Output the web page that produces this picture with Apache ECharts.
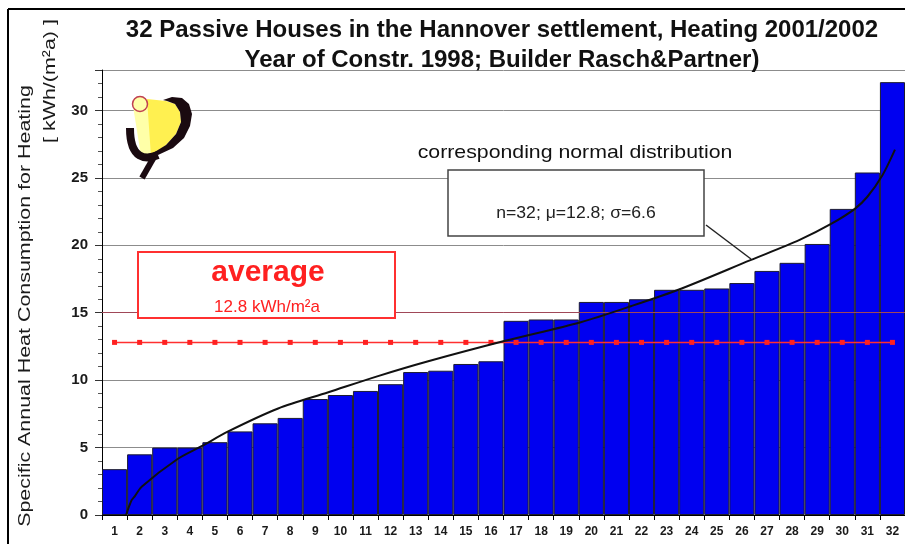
<!DOCTYPE html>
<html>
<head>
<meta charset="utf-8">
<script src="https://cdn.jsdelivr.net/npm/echarts@6/dist/echarts.min.js"></script>
<style>
html, body { margin: 0; padding: 0; background: #fff; }
#chart { width: 905px; height: 544px; }
</style>
</head>
<body>
<div id="chart"></div>
<script>
// house numbers, sorted by consumption
let houses = ['1', '2', '3', '4', '5', '6', '7', '8', '9', '10', '11', '12', '13', '14', '15', '16',
  '17', '18', '19', '20', '21', '22', '23', '24', '25', '26', '27', '28', '29', '30', '31', '32']
// kWh/(m²a)
let consumption = [3.4, 4.5, 5.0, 5.0, 5.4, 6.2, 6.8, 7.2, 8.6, 8.9, 9.2, 9.7, 10.6, 10.7, 11.2, 11.4,
  14.4, 14.5, 14.5, 15.8, 15.8, 16.0, 16.7, 16.7, 16.8, 17.2, 18.1, 18.7, 20.1, 22.7, 25.4, 32.1]
let average = 12.8
// normal distribution curve (x in house units from the left axis)
let normalX = [0.96, 1.18, 1.31, 1.58, 2.97, 3.97, 5.03, 7.02, 9.02, 11.0, 13.0, 16.03, 19.08, 21.1,
  23.1, 25.84, 27.8, 29.07, 30.0, 30.5, 31.1, 31.6]
let normalY = [0.0, 1.1, 1.4, 2.1, 4.1, 5.1, 6.2, 7.9, 9.1, 10.3, 11.4, 12.9, 14.3, 15.5,
  16.8, 18.9, 20.4, 21.6, 22.7, 23.6, 25.2, 27.1]
let yTicks = [0, 5, 10, 15, 20, 25, 30]
let redGridValue = 15

let chart = echarts.init(document.getElementById('chart'), null, { renderer: 'canvas' })

let textColor = '#1a1a1a'
let logoBlack = '#1a0a10'
let option = {
  animation: false,
  backgroundColor: '#fff',
  title: {
    text: '32 Passive Houses in the Hannover settlement, Heating 2001/2002\nYear of Constr. 1998; Builder Rasch&Partner)',
    left: 497,
    top: 10,
    textAlign: 'center',
    textStyle: {
      fontFamily: 'Liberation Sans, Arial',
      fontSize: 24,
      fontWeight: 'bold',
      color: '#111',
      lineHeight: 30
    }
  },
  grid: {
    left: 102,
    right: 0,
    top: 70,
    bottom: 29
  },
  xAxis: [
    {
      type: 'category',
      data: houses,
      boundaryGap: true,
      axisLine: { lineStyle: { color: '#000', width: 1 } },
      axisTick: { show: true, length: 5, lineStyle: { color: '#000' } },
      axisLabel: {
        interval: 0,
        margin: 11,
        fontFamily: 'Liberation Sans, Arial',
        fontSize: 12,
        fontWeight: 'bold',
        color: textColor
      },
      splitLine: { show: false }
    },
    {
      type: 'value',
      min: 0,
      max: 32,
      show: false
    }
  ],
  yAxis: {
    type: 'value',
    min: 0,
    max: 33,
    interval: 5,
    axisLine: { show: true, lineStyle: { color: '#000', width: 1 } },
    axisTick: { show: true, length: 7, lineStyle: { color: '#333' } },
    minorTick: { show: true, splitNumber: 5, length: 4, lineStyle: { color: '#555' } },
    axisLabel: {
      margin: 14,
      showMaxLabel: false,
      fontFamily: 'Liberation Sans, Arial',
      fontSize: 15,
      fontWeight: 'bold',
      color: textColor,
      formatter: function (v) {
        return yTicks.indexOf(v) >= 0 ? String(v) : ''
      }
    },
    splitLine: {
      show: true,
      lineStyle: { color: '#8c8c8c', width: 1 }
    }
  },
  series: [
    {
      // reddish grid line at 15, kept under the bars
      name: 'grid15',
      type: 'line',
      data: [],
      silent: true,
      z: 1,
      markLine: {
        silent: true,
        symbol: 'none',
        label: { show: false },
        lineStyle: { color: '#a04858', type: 'solid', width: 1 },
        data: [{ yAxis: redGridValue }]
      }
    },
    {
      name: 'consumption',
      type: 'bar',
      data: consumption,
      barCategoryGap: 0,
      itemStyle: {
        color: '#0000f0',
        borderColor: '#1c1c30',
        borderWidth: 1
      },
      z: 2
    },
    {
      name: 'average',
      type: 'line',
      data: houses.map(function () { return average }),
      symbol: 'rect',
      symbolSize: 5,
      itemStyle: { color: '#ff2020' },
      lineStyle: { color: '#ff3030', width: 1.5 },
      z: 4
    },
    {
      name: 'normal',
      type: 'line',
      xAxisIndex: 1,
      data: normalX.map(function (x, i) { return [x, normalY[i]] }),
      smooth: 0.3,
      symbol: 'none',
      lineStyle: { color: '#111', width: 2 },
      z: 5
    }
  ],
  graphic: [
    // frame
    { type: 'line', shape: { x1: 8, y1: 9, x2: 905, y2: 9 }, style: { stroke: '#000', lineWidth: 2 } },
    { type: 'line', shape: { x1: 8, y1: 9, x2: 8, y2: 544 }, style: { stroke: '#000', lineWidth: 2 } },
    // y axis title
    {
      type: 'text',
      x: 25,
      y: 306,
      rotation: Math.PI / 2,
      scaleX: 1.26,
      style: {
        text: 'Specific Annual Heat Consumption for Heating',
        font: '17px Liberation Sans, Arial',
        fill: textColor,
        textAlign: 'center',
        textVerticalAlign: 'middle'
      }
    },
    {
      type: 'text',
      x: 50,
      y: 81,
      rotation: Math.PI / 2,
      scaleX: 1.26,
      style: {
        text: '[ kWh/(m²a) ]',
        font: '17px Liberation Sans, Arial',
        fill: textColor,
        textAlign: 'center',
        textVerticalAlign: 'middle'
      }
    },
    // logo
    {
      type: 'polygon',
      shape: { points: [[133, 106], [148, 99], [152, 156], [141, 156]] },
      style: { fill: '#ffffa8' },
      z: 10
    },
    {
      type: 'polygon',
      shape: { points: [[147, 99], [166, 101], [175, 104], [180, 112], [181, 122], [176, 134], [166, 145], [155, 153], [151, 156]] },
      style: { fill: '#fff050' },
      z: 10
    },
    {
      type: 'polygon',
      shape: { points: [[163, 100], [172, 97], [182, 98], [189, 104], [192, 114], [190, 126], [184, 138], [173, 148], [158, 155],
        [153, 153], [166, 145], [176, 134], [181, 122], [180, 112], [175, 104], [167, 101]] },
      style: { fill: logoBlack },
      z: 11
    },
    {
      type: 'bezierCurve',
      shape: { x1: 130, y1: 128, cpx1: 130, cpy1: 160, cpx2: 146, cpy2: 160, x2: 158, y2: 155 },
      style: { stroke: logoBlack, lineWidth: 8, fill: null },
      z: 11
    },
    {
      type: 'line',
      shape: { x1: 154, y1: 157, x2: 142, y2: 178 },
      style: { stroke: logoBlack, lineWidth: 6 },
      z: 11
    },
    {
      type: 'circle',
      shape: { cx: 140, cy: 104, r: 7.5 },
      style: { fill: '#ffffa8', stroke: '#c04050', lineWidth: 1.5 },
      z: 12
    },
    // average box
    {
      type: 'rect',
      shape: { x: 138, y: 252, width: 257, height: 66 },
      style: { fill: '#fff', stroke: '#ff3030', lineWidth: 2 },
      z: 20
    },
    {
      type: 'text',
      x: 268,
      y: 273,
      style: {
        text: 'average',
        font: 'bold 30px Liberation Sans, Arial',
        fill: '#ff2020',
        textAlign: 'center',
        textVerticalAlign: 'middle'
      },
      z: 21
    },
    {
      type: 'text',
      x: 267,
      y: 307,
      style: {
        text: '12.8 kWh/m²a',
        font: '17px Liberation Sans, Arial',
        fill: '#ff2020',
        textAlign: 'center',
        textVerticalAlign: 'middle'
      },
      z: 21
    },
    // normal distribution label
    {
      type: 'text',
      x: 575,
      y: 153,
      scaleX: 1.12,
      style: {
        text: 'corresponding normal distribution',
        font: '19px Liberation Sans, Arial',
        fill: '#111',
        textAlign: 'center',
        textVerticalAlign: 'middle'
      },
      z: 21
    },
    {
      type: 'line',
      shape: { x1: 706, y1: 225, x2: 751, y2: 259 },
      style: { stroke: '#222', lineWidth: 1.5 },
      z: 20
    },
    {
      type: 'rect',
      shape: { x: 448, y: 170, width: 256, height: 66 },
      style: { fill: '#fff', stroke: '#444', lineWidth: 1.5 },
      z: 20
    },
    {
      type: 'text',
      x: 576,
      y: 214,
      scaleX: 1.1,
      style: {
        text: 'n=32; μ=12.8; σ=6.6',
        font: '16px Liberation Sans, Arial',
        fill: '#222',
        textAlign: 'center',
        textVerticalAlign: 'middle'
      },
      z: 21
    }
  ]
}

chart.setOption(option)
</script>
</body>
</html>
